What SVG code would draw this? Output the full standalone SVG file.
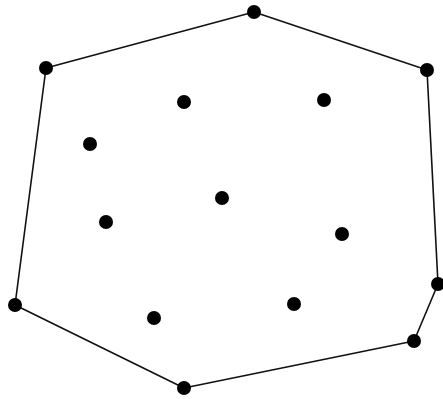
<svg xmlns="http://www.w3.org/2000/svg" width="443" height="399" viewBox="0 0 443 399">
<style>
.pt{fill:#000}
.hull{fill:none;stroke:#111;stroke-width:1.6;stroke-linejoin:round}
</style>
<rect width="443" height="399" fill="#fff"/>
<g id="connectors">
<polygon class="hull" points="254,12 427,70 438,284 414,341 184,388 15,305 46,68"/>
</g>
<g id="h1"><circle class="pt" cx="254" cy="12" r="7"/></g>
<g id="h2"><circle class="pt" cx="427" cy="70" r="7"/></g>
<g id="h3"><circle class="pt" cx="438" cy="284" r="7"/></g>
<g id="h4"><circle class="pt" cx="414" cy="341" r="7"/></g>
<g id="h5"><circle class="pt" cx="184" cy="388" r="7"/></g>
<g id="h6"><circle class="pt" cx="15" cy="305" r="7"/></g>
<g id="h7"><circle class="pt" cx="46" cy="68" r="7"/></g>
<g id="p1"><circle class="pt" cx="184" cy="102" r="7"/></g>
<g id="p2"><circle class="pt" cx="324" cy="100" r="7"/></g>
<g id="p3"><circle class="pt" cx="90" cy="144" r="7"/></g>
<g id="p4"><circle class="pt" cx="222" cy="198" r="7"/></g>
<g id="p5"><circle class="pt" cx="106" cy="222" r="7"/></g>
<g id="p6"><circle class="pt" cx="342" cy="234" r="7"/></g>
<g id="p7"><circle class="pt" cx="154" cy="318" r="7"/></g>
<g id="p8"><circle class="pt" cx="294" cy="304" r="7"/></g>
</svg>
